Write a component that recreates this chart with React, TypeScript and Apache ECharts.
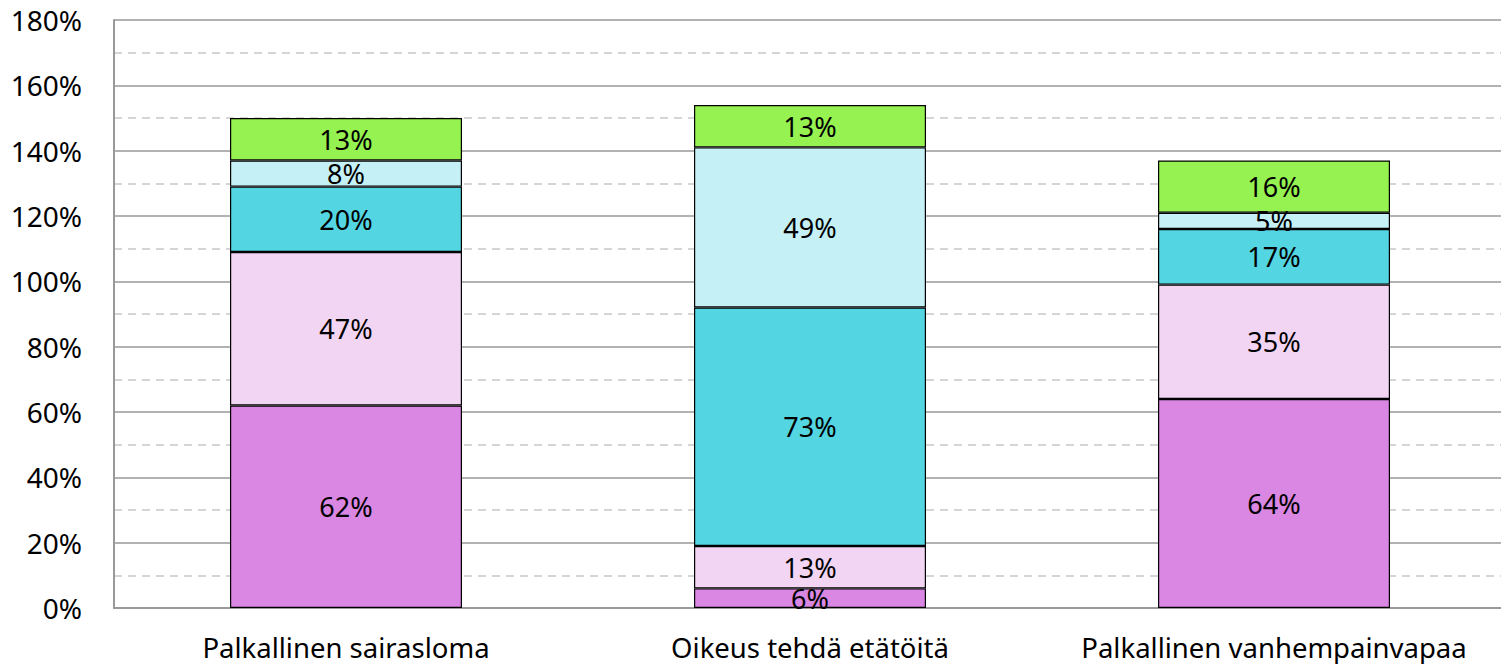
import React, { useEffect, useRef } from "react";
import * as echarts from "echarts";

const categories = ["Palkallinen sairasloma", "Oikeus tehdä etätöitä", "Palkallinen vanhempainvapaa"];
const s1 = [62, 6, 64];
const s2 = [47, 13, 35];
const s3 = [20, 73, 17];
const s4 = [8, 49, 5];
const s5 = [13, 13, 16];
const seriesData = [s1, s2, s3, s4, s5];
const colors = ["#D987E2", "#F2D5F3", "#53D5E2", "#C5F0F5", "#96F250"];

const FONT = "Noto Sans";

export default function App() {
  const ref = useRef<HTMLDivElement>(null);
  useEffect(() => {
    if (!ref.current) return;
    const chart = echarts.init(ref.current, undefined, { renderer: "svg" });
    chart.setOption({
      animation: false,
      backgroundColor: "#ffffff",
      grid: { left: 114, top: 20, right: -5, bottom: 56, containLabel: false, outerBoundsMode: "none" },
      xAxis: {
        type: "category",
        data: categories,
        axisLine: { show: true, lineStyle: { color: "#999999", width: 2 } },
        axisTick: { show: false },
        axisLabel: { color: "#000", fontSize: 27.5, fontFamily: FONT, margin: 25, interval: 0, hideOverlap: false },
      },
      yAxis: {
        type: "value",
        min: 0,
        max: 180,
        interval: 20,
        axisLine: { show: true, lineStyle: { color: "#999999", width: 2 } },
        axisTick: { show: false },
        axisLabel: { color: "#000", fontSize: 28, fontFamily: FONT, margin: 32, formatter: (v: number) => v + "%" },
        splitLine: { show: true, lineStyle: { color: "#999999", width: 1.5 } },
        minorTick: { show: false, splitNumber: 2 },
        minorSplitLine: { show: true, lineStyle: { color: "#C8C8C8", width: 1.5, type: [8, 6] } },
      },
      series: seriesData.map((d, i) => ({
        type: "bar",
        stack: "total",
        data: d,
        barWidth: "50%",
        itemStyle: { color: colors[i], borderColor: "#000", borderWidth: 1.2 },
        label: {
          show: true,
          position: "inside",
          color: "#000",
          fontSize: 27,
          lineHeight: 24,
          fontFamily: FONT,
          formatter: (p: any) => p.value + "%",
        },
      })),
    });
    return () => chart.dispose();
  }, []);
  return <div ref={ref} style={{ position: "absolute", left: 0, top: 0, width: 1501, height: 664 }} />;
}
